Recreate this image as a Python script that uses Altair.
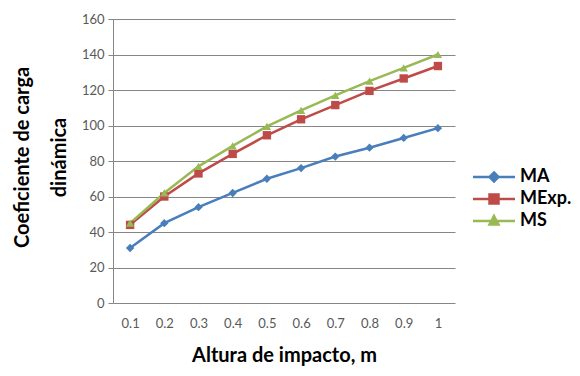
import altair as alt
import pandas as pd

heights = ["0.1", "0.2", "0.3", "0.4", "0.5", "0.6", "0.7", "0.8", "0.9", "1"]
ma = [31, 45, 54, 62, 70, 76, 82.5, 87.5, 93, 98.5]
mexp = [44, 60, 73, 84, 94.5, 103.5, 111.5, 119.5, 126.5, 133.5]
ms = [45, 62, 77, 88.5, 99.5, 108.5, 117, 125, 132.5, 140]
series = ["MA", "MExp.", "MS"]
colors = ["#4A7EBB", "#BE4B48", "#98B954"]
shapes = ["diamond", "square", "triangle-up"]
legend_shapes = [
    "M-4.2,0L4.2,0M0,-0.9L0.9,0L0,0.9L-0.9,0Z",
    "M-4.2,0L4.2,0M-0.9,-0.9L0.9,-0.9L0.9,0.9L-0.9,0.9Z",
    "M-4.2,0L4.2,0M0,-1L0.9,0.7L-0.9,0.7Z",
]

rows = []
for name, vals in zip(series, [ma, mexp, ms]):
    for h, v in zip(heights, vals):
        rows.append({"h": h, "v": v, "s": name})
df = pd.DataFrame(rows)

FONT = "Lato"
x = alt.X("h:O", sort=heights,
          axis=alt.Axis(title="Altura de impacto, m", labelAngle=0, ticks=False,
                        domain=False, labelPadding=14, labelFontSize=13,
                        labelColor="#595959", titleFontSize=20, titleFontWeight="bold",
                        titleColor="#000000", titleY=52, titleBaseline="middle"),
          scale=alt.Scale(paddingInner=0, paddingOuter=0.5))
y = alt.Y("v:Q", scale=alt.Scale(domain=[0, 160]),
          axis=alt.Axis(title=["Coeficiente de carga", "dinámica"], values=list(range(0, 161, 20)),
                        tickSize=5, tickColor="#868686", domainColor="#868686",
                        gridColor="#868686", labelFontSize=13, labelColor="#595959",
                        labelPadding=4, titleFontSize=20, titleFontWeight="bold",
                        titleColor="#000000", titleLineHeight=37, titleX=-91, titleY=138,
                        titleBaseline="middle", titleAngle=-90))
color = alt.Color("s:N", scale=alt.Scale(domain=series, range=colors), legend=None)

lines = alt.Chart(df).mark_line(strokeWidth=2.5).encode(x=x, y=y, color=color)
points = alt.Chart(df).mark_point(filled=True, opacity=1, size=70).encode(
    x=x, y=y, color=color,
    shape=alt.Shape("s:N", scale=alt.Scale(domain=series, range=shapes), legend=None))

leg = alt.Legend(title=None, orient="none", legendX=372, legendY=149,
                 labelFontSize=18, labelFontWeight="bold",
                 labelColor="#000000", labelOffset=17,
                 rowPadding=2, symbolStrokeWidth=2.5)
legend_layer = alt.Chart(df).transform_filter("false").mark_point(
    filled=True, opacity=1, size=49, strokeWidth=2.5).encode(
    x=x, y=y,
    color=alt.Color("s:N", scale=alt.Scale(domain=series, range=colors), legend=leg),
    stroke=alt.Stroke("s:N", scale=alt.Scale(domain=series, range=colors), legend=leg),
    shape=alt.Shape("s:N", scale=alt.Scale(domain=series, range=legend_shapes), legend=leg))

chart = alt.layer(lines, points, legend_layer).resolve_scale(
    shape="independent", color="independent", stroke="independent").properties(
    width=342, height=284,
    autosize=alt.AutoSizeParams(type="none"),
    padding={"left": 105, "top": 11, "right": 117, "bottom": 65},
).configure(font=FONT).configure_view(stroke=None).configure_axis(gridWidth=1)

chart.save("out.html", embed_options={"renderer": "svg", "actions": False})
